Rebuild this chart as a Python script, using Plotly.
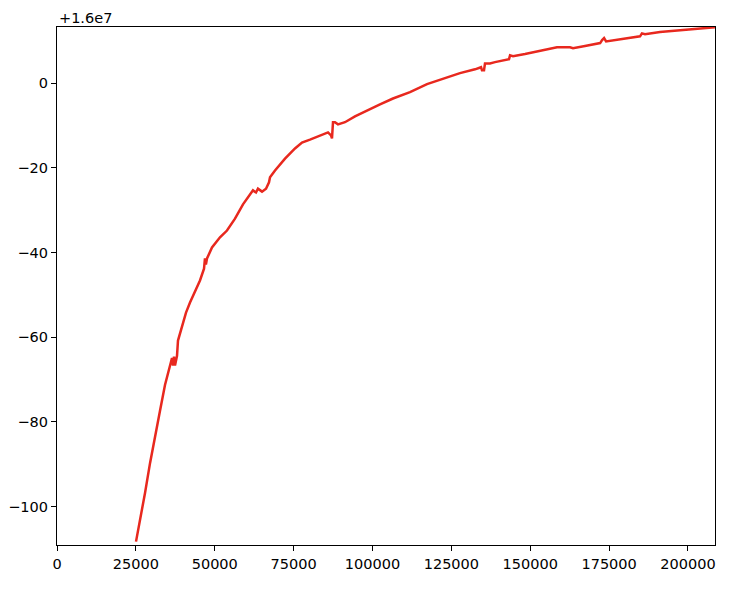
import plotly.graph_objects as go

OFFSET = 16000000

# x positions (data units)
x_vals = [25040, 26300, 27900, 29500, 31060, 32650, 34230, 35800, 36450, 36770,
          37080, 37400, 38040, 38350, 39600, 40890, 42160, 43740, 45320, 46600,
          46900, 47200, 47540, 49130, 51660, 53880, 56420, 58950, 61170, 62120,
          63070, 63700, 64980, 66250, 67200, 67520, 69100, 72270, 75440, 77650,
          80190, 83360, 85900, 86850, 87160, 87480, 88110, 89060, 91280, 94450,
          98250, 102380, 106500, 111890, 117280, 122990, 127730, 132500, 134400, 134700,
          135350, 135660, 137240, 138830, 142000, 143270, 143600, 144530, 148340, 153100,
          156260, 158480, 162600, 163550, 167350, 172150, 172780, 173410, 174040, 178450,
          183850, 184800, 185400, 186370, 191130, 197470, 203800, 208560]

# y values relative to the +1.6e7 offset
y_rel = [-108.3, -103.4, -96.8, -89.7, -83.3, -77.4, -71.3, -66.7, -64.9, -66.7,
         -64.6, -66.7, -64.4, -60.8, -57.3, -54.2, -51.8, -49.0, -46.6, -43.8,
         -41.4, -42.8, -41.4, -38.8, -36.4, -34.8, -32.0, -28.6, -26.3, -25.3,
         -25.8, -24.9, -25.6, -24.9, -23.4, -22.2, -20.6, -17.8, -15.4, -14.0,
         -13.3, -12.3, -11.6, -12.3, -13.0, -9.2, -9.2, -9.7, -9.2, -7.8,
         -6.4, -5.0, -3.6, -2.1, -0.2, 1.2, 2.4, 3.3, 3.8, 3.1,
         3.1, 4.7, 4.7, 5.0, 5.4, 5.7, 6.6, 6.4, 6.9, 7.6,
         8.0, 8.5, 8.5, 8.3, 8.8, 9.5, 10.2, 10.7, 9.9, 10.4,
         10.9, 11.1, 11.8, 11.6, 12.1, 12.5, 12.9, 13.25]

y_vals = [OFFSET + v for v in y_rel]

x_ticks = [0, 25000, 50000, 75000, 100000, 125000, 150000, 175000, 200000]
x_tick_text = [str(t) for t in x_ticks]
y_ticks_rel = [0, -20, -40, -60, -80, -100]
y_tick_text = ["0" if t == 0 else "\u2212" + str(-t) for t in y_ticks_rel]

fig = go.Figure()
fig.add_trace(go.Scatter(x=x_vals, y=y_vals, mode="lines",
                         line=dict(color="#e8281e", width=2.5),
                         showlegend=False, hoverinfo="skip"))

axis_common = dict(showline=True, linecolor="black", linewidth=1.2, mirror=True,
                   ticks="outside", ticklen=5, tickcolor="black", tickwidth=1,
                   showgrid=False, zeroline=False, automargin=False,
                   tickfont=dict(family="DejaVu Sans", size=14.5, color="black"))

fig.update_layout(
    width=750, height=594,
    margin=dict(l=57, r=35, t=27, b=49),
    paper_bgcolor="white", plot_bgcolor="white",
    xaxis=dict(range=[0, 208560], tickvals=x_ticks, ticktext=x_tick_text, **axis_common),
    yaxis=dict(range=[OFFSET - 109.1, OFFSET + 13.3],
               tickvals=[OFFSET + t for t in y_ticks_rel], ticktext=y_tick_text,
               **axis_common),
    annotations=[dict(text="+1.6e7", xref="paper", yref="paper", x=0, y=1,
                      xanchor="left", yanchor="bottom", showarrow=False,
                      yshift=-1, font=dict(family="DejaVu Sans", size=14.5, color="black"))],
)

fig.write_html("out.html", config={"displayModeBar": False},
               post_script="document.body.style.margin='0';")
